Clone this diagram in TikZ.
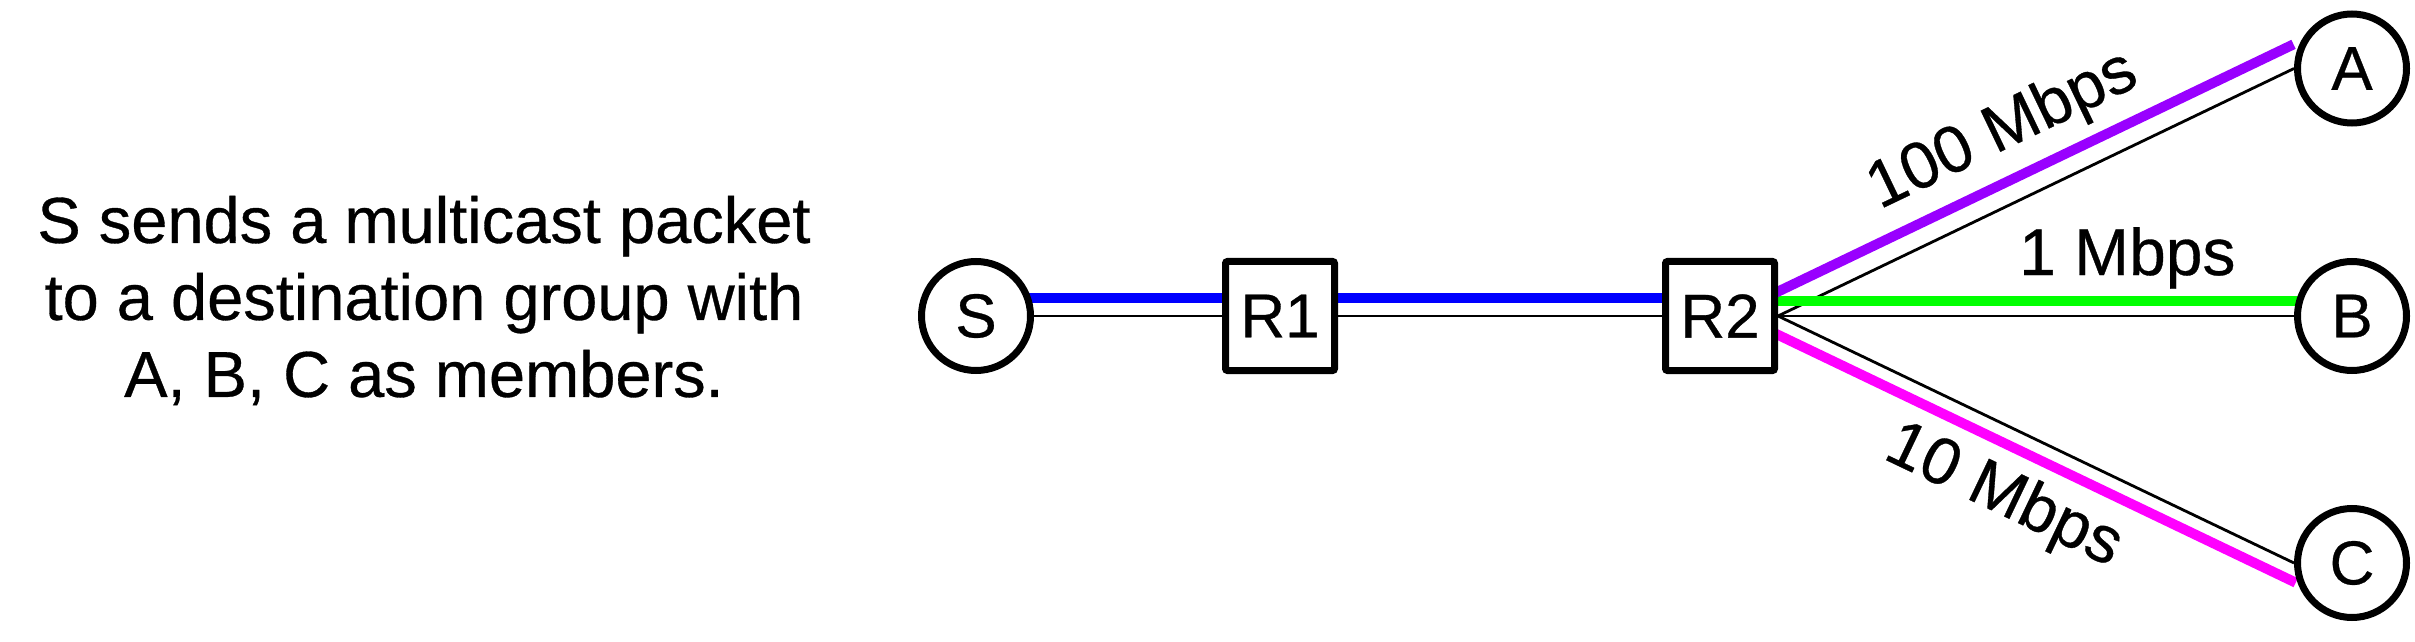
\documentclass[tikz,border=0pt]{standalone}
\usepackage{fontspec}
\setmainfont{Liberation Sans}[FakeBold=0.5]
\usetikzlibrary{calc,backgrounds}
\definecolor{cblue}{RGB}{0,0,255}
\definecolor{cpurple}{RGB}{153,0,255}
\definecolor{cgreen}{RGB}{0,255,0}
\definecolor{cmagenta}{RGB}{255,0,255}
\begin{document}
\begin{tikzpicture}[x=1pt,y=1pt,
  host/.style={circle,draw,line width=7pt,fill=white,minimum size=109pt,inner sep=0pt,font=\fontsize{62}{72}\selectfont},
  router/.style={rectangle,draw,line width=7pt,fill=white,minimum size=109pt,inner sep=0pt,rounded corners=2pt,font=\fontsize{62}{72}\selectfont},
  wire/.style={line width=2.8pt,black},
  flow/.style={line width=10pt,shorten <=-10pt,shorten >=-10pt},
  rate/.style={font=\fontsize{66}{76}\selectfont,inner sep=0pt},
  caption/.style={align=center,inner sep=0pt,font=\fontsize{65}{77}\selectfont}
]
\useasboundingbox (0,0) rectangle (2415,641);
\node[host] (S) at (976,325) {S};
\node[router] (R1) at (1280,325) {R1};
\node[router] (R2) at (1720,325) {R2};
\node[host] (A) at (2352,572.5) {A};
\node[host] (B) at (2352,325) {B};
\node[host] (C) at (2352,78) {C};
\node[caption] (cap) at (424,340.5) {S sends a multicast packet\\to a destination group with\\A, B, C as members.};
\coordinate (mA) at ($(R2.east)!0.494!(A.west)$);
\coordinate (mC) at ($(R2.east)!0.492!(C.west)$);
\coordinate (mB) at ($(R2.east)!0.677!(B.west)$);
\node[rate,rotate=25.6] (lA) at ($(mA)!69pt!90:(A.west)$) {100 Mbps};
\node[rate,rotate=-25.5] (lC) at ($(mC)!66pt!-90:(C.west)$) {10 Mbps};
\node[rate,anchor=base] (lB) at ($(mB)+(0,41)$) {1 Mbps};
\begin{pgfonlayer}{background}
\fill[white] (0,0) rectangle (2415,641);
\draw[wire] (S.east) -- (R1.west);
\draw[wire] (R1.east) -- (R2.west);
\draw[wire] (R2.east) -- (A.west);
\draw[wire] (R2.east) -- (B.west);
\draw[wire] (R2.east) -- (C.west);
\draw[flow,cblue] ($(S.east)+(0,18)$) -- ($(R1.west)+(0,18)$);
\draw[flow,cblue] ($(R1.east)+(0,18)$) -- ($(R2.west)+(0,18)$);
\draw[flow,cgreen] ($(R2.east)+(0,15)$) -- ($(B.west)+(0,15)$);
\draw[flow,cpurple] ($(R2.east)!22pt!90:(A.west)$) -- ($(A.west)!22pt!-90:(R2.east)$);
\draw[flow,cmagenta] ($(R2.east)!17pt!-90:(C.west)$) -- ($(C.west)!17pt!90:(R2.east)$);
\end{pgfonlayer}
\end{tikzpicture}
\end{document}
